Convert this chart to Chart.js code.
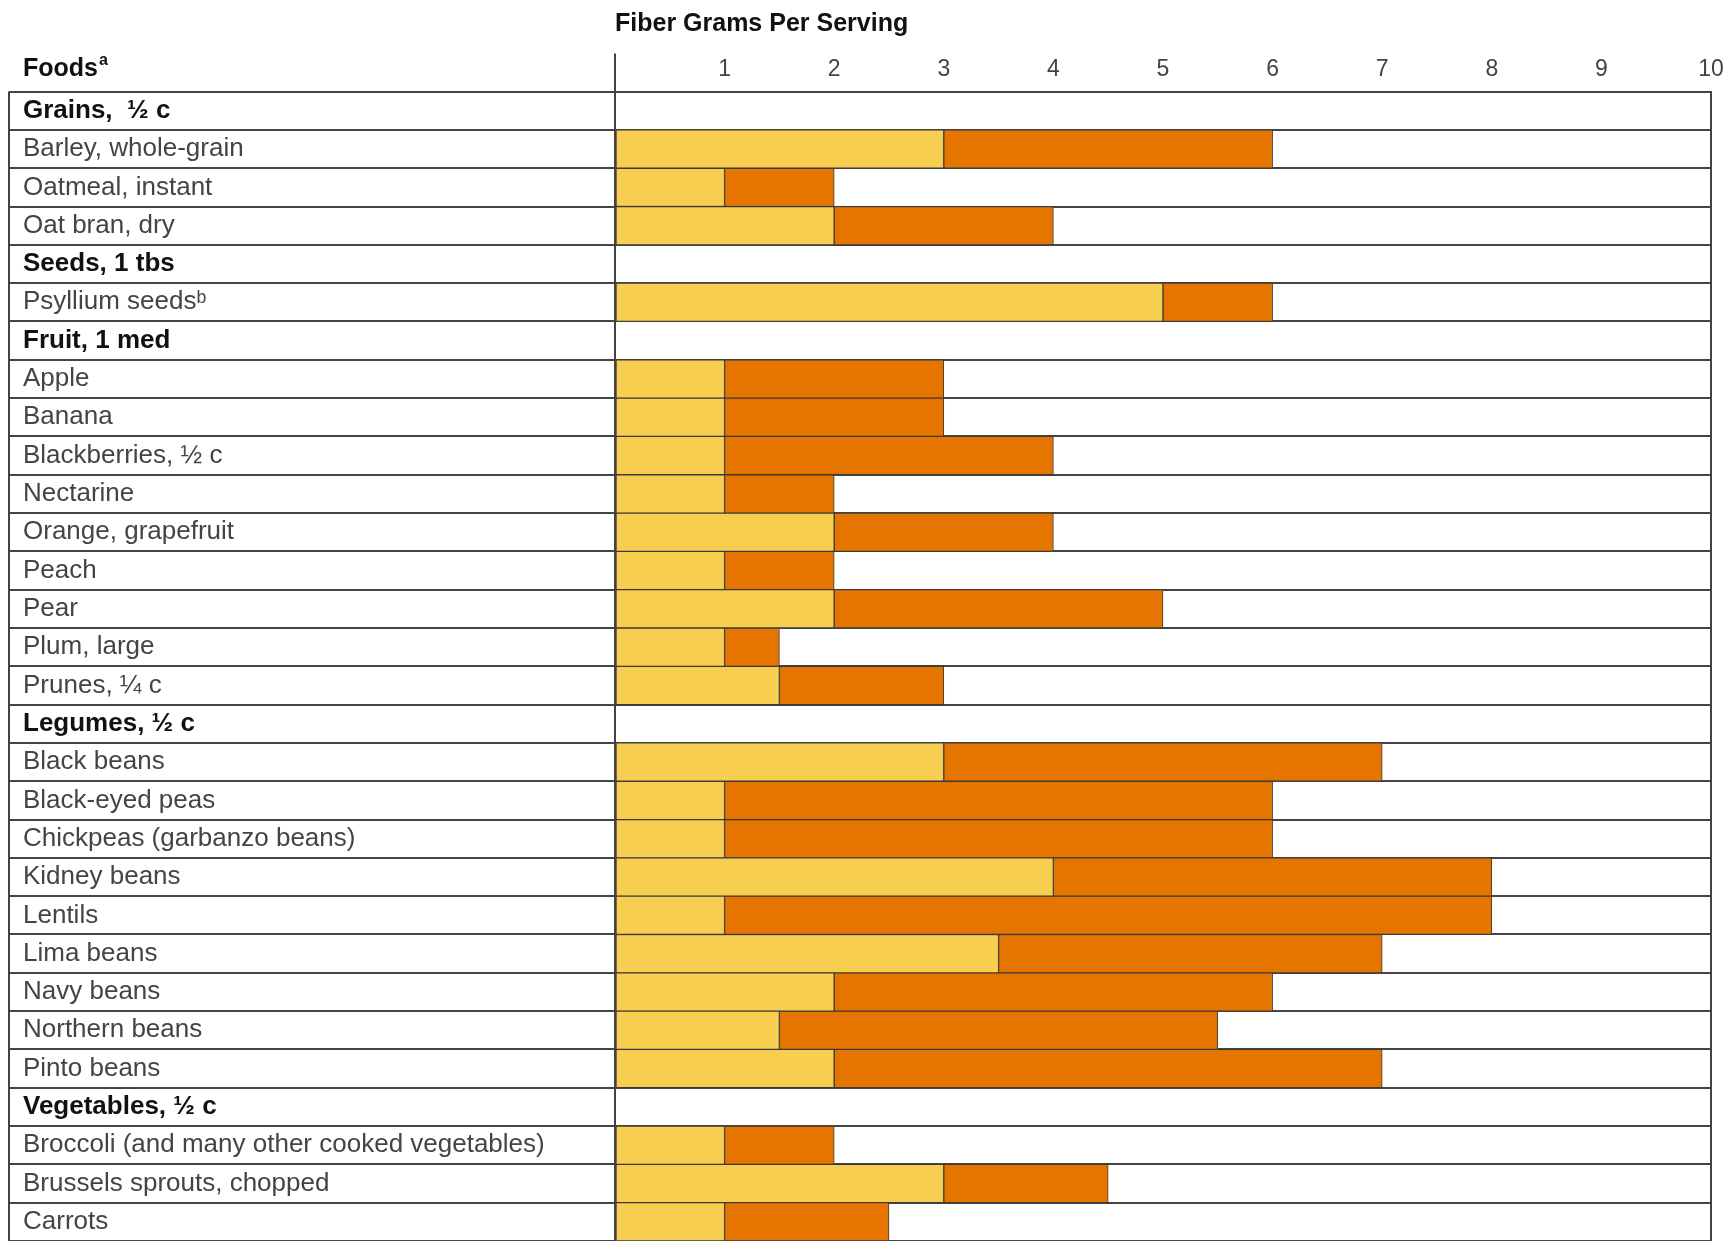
<!DOCTYPE html>
<html>
<head>
<meta charset="utf-8">
<title>Fiber Grams Per Serving</title>
<script src="https://cdn.jsdelivr.net/npm/chart.js@4.4.1/dist/chart.umd.min.js"></script>
<style>
  html, body { margin: 0; padding: 0; background: #fff; }
  #wrap { position: relative; width: 1730px; height: 1241px; }
</style>
</head>
<body>
<div id="wrap"><canvas id="fiberChart"></canvas></div>
<script>
// rows of the table, top to bottom (group headers have no bars)
const rowLabels = [
    'Grains,  ½ c',
    'Barley, whole-grain',
    'Oatmeal, instant',
    'Oat bran, dry',
    'Seeds, 1 tbs',
    'Psyllium seedsᵇ',
    'Fruit, 1 med',
    'Apple',
    'Banana',
    'Blackberries, ½ c',
    'Nectarine',
    'Orange, grapefruit',
    'Peach',
    'Pear',
    'Plum, large',
    'Prunes, ¼ c',
    'Legumes, ½ c',
    'Black beans',
    'Black-eyed peas',
    'Chickpeas (garbanzo beans)',
    'Kidney beans',
    'Lentils',
    'Lima beans',
    'Navy beans',
    'Northern beans',
    'Pinto beans',
    'Vegetables, ½ c',
    'Broccoli (and many other cooked vegetables)',
    'Brussels sprouts, chopped',
    'Carrots'
];
const headerRows = ['Grains,  ½ c', 'Seeds, 1 tbs', 'Fruit, 1 med', 'Legumes, ½ c', 'Vegetables, ½ c'];

// grams per serving (yellow segment, then orange segment stacked on it)
const solubleFiber = [null, 3, 1, 2, null, 5, null, 1, 1, 1, 1, 2, 1, 2, 1, 1.5,
    null, 3, 1, 1, 4, 1, 3.5, 2, 1.5, 2, null, 1, 3, 1];
const insolubleFiber = [null, 3, 1, 2, null, 1, null, 2, 2, 3, 1, 2, 1, 3, 0.5, 1.5,
    null, 4, 5, 5, 4, 7, 3.5, 4, 4, 5, null, 1, 1.5, 1.5];

const tickLabels = ['1', '2', '3', '4', '5', '6', '7', '8', '9', '10'];

const FONT = "'Liberation Sans', Arial, Helvetica, sans-serif";
const LINE = '#444';

// "Foods" column heading and left edge of the table
const tableFrame = {
    id: 'tableFrame',
    afterDraw(chart) {
        const ctx = chart.ctx;
        const y = chart.scales.y;
        const area = chart.chartArea;
        const leftX = y.right - y.options.grid.tickLength;
        ctx.save();
        ctx.strokeStyle = LINE;
        ctx.lineWidth = 2;
        ctx.beginPath();
        ctx.moveTo(leftX, area.top);
        ctx.lineTo(leftX, area.bottom);
        ctx.stroke();

        ctx.fillStyle = '#111';
        ctx.textBaseline = 'alphabetic';
        ctx.font = 'bold 25px ' + FONT;
        ctx.fillText('Foods', y.left, 76);
        const w = ctx.measureText('Foods').width;
        ctx.font = 'bold 16px ' + FONT;
        ctx.fillText('a', y.left + w + 1, 65);
        ctx.restore();
    }
};

const canvas = document.getElementById('fiberChart');
const ctx = canvas.getContext('2d');

new Chart(ctx, {
    type: 'bar',
    data: {
        labels: rowLabels,
        datasets: [{
            label: 'Soluble',
            data: solubleFiber,
            backgroundColor: '#F8CE50',
            borderColor: '#3a3a3a',
            borderWidth: 1,
            borderSkipped: false
        }, {
            label: 'Insoluble',
            data: insolubleFiber,
            backgroundColor: '#E67500',
            borderColor: '#3a3a3a',
            borderWidth: 1,
            borderSkipped: false
        }]
    },
    options: {
        indexAxis: 'y',
        responsive: true,
        maintainAspectRatio: false,
        animation: false,
        events: [],
        layout: {padding: {left: 23, right: 19, top: 0, bottom: 0}},
        datasets: {bar: {barPercentage: 1, categoryPercentage: 1}},
        plugins: {
            legend: {display: false},
            tooltip: {enabled: false}
        },
        scales: {
            x: {
                position: 'top',
                stacked: true,
                min: 0,
                max: 10,
                afterFit: (scale) => { scale.height = 91.6; },
                ticks: {
                    stepSize: 1,
                    padding: -30,
                    color: '#444',
                    font: {family: FONT, size: 23},
                    callback: (value) => value === 0 ? '' : tickLabels[value - 1]
                },
                grid: {
                    drawOnChartArea: true,
                    tickLength: 38,
                    lineWidth: 2,
                    color: (c) => (c.tick && (c.tick.value === 0 || c.tick.value === 10)) ? LINE : 'rgba(0,0,0,0)',
                    tickColor: (c) => (c.tick && c.tick.value === 0) ? LINE : 'rgba(0,0,0,0)'
                },
                border: {display: true, color: LINE, width: 2},
                title: {
                    display: true,
                    text: 'Fiber Grams Per Serving',
                    align: 'start',
                    color: '#111',
                    font: {family: FONT, size: 25, weight: 'bold'},
                    padding: {top: 9, bottom: 0}
                }
            },
            y: {
                stacked: true,
                afterFit: (scale) => {
                    scale.width = 592;
                    scale.paddingTop = 0;
                    scale.paddingBottom = 0;
                },
                ticks: {
                    autoSkip: false,
                    crossAlign: 'far',
                    color: (c) => headerRows.includes(rowLabels[c.index]) ? '#111' : '#444',
                    font: (c) => headerRows.includes(rowLabels[c.index])
                        ? {family: FONT, size: 26, weight: 'bold'}
                        : {family: FONT, size: 26, weight: 'normal'}
                },
                grid: {
                    color: LINE,
                    lineWidth: 2,
                    tickLength: 606
                },
                border: {display: true, color: LINE, width: 2}
            }
        }
    },
    plugins: [tableFrame]
});
</script>
</body>
</html>
